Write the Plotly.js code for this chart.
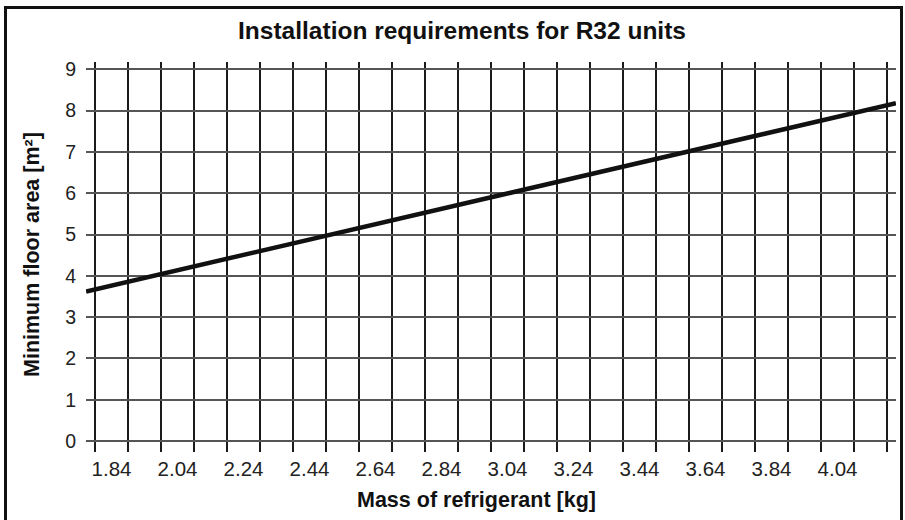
<!DOCTYPE html>
<html>
<head>
<meta charset="utf-8">
<script src="https://cdn.plot.ly/plotly-3.0.1.min.js"></script>
<style>
  html, body { margin: 0; padding: 0; background: #fff; }
  #wrap { position: relative; width: 905px; height: 520px; overflow: hidden; }
  #chart { position: absolute; left: 0; top: 0; width: 905px; height: 520px; }
  #frame { position: absolute; left: 4px; top: 6px; width: 893px; height: 540px;
           border: 3px solid #111; pointer-events: none; }
</style>
</head>
<body>
<div id="wrap">
  <div id="chart"></div>
  <div id="frame"></div>
</div>
<script>
// Data
const massKg = [1.763, 2.0, 2.5, 3.0, 3.5, 4.0, 4.217];
const minFloorArea = [3.62, 4.06, 4.99, 5.92, 6.85, 7.78, 8.18];

const xTickVals = [1.84, 2.04, 2.24, 2.44, 2.64, 2.84, 3.04, 3.24, 3.44, 3.64, 3.84, 4.04];
const xTickText = ["1.84", "2.04", "2.24", "2.44", "2.64", "2.84", "3.04", "3.24", "3.44", "3.64", "3.84", "4.04"];
const xGridVals = [1.79, 1.89, 1.99, 2.09, 2.19, 2.29, 2.39, 2.49, 2.59, 2.69, 2.79, 2.89, 2.99,
                   3.09, 3.19, 3.29, 3.39, 3.49, 3.59, 3.69, 3.79, 3.89, 3.99, 4.09, 4.19];
const yTickVals = [0, 1, 2, 3, 4, 5, 6, 7, 8, 9];

const chartTitle = "Installation requirements for R32 units";
const xTitle = "Mass of refrigerant [kg]";
const yTitle = "Minimum floor area [m²]";

const FONT = "Liberation Sans, Arial, sans-serif";

const trace = {
  x: massKg,
  y: minFloorArea,
  type: "scatter",
  mode: "lines",
  line: { color: "#111111", width: 4.5 },
  hoverinfo: "skip",
  cliponaxis: false
};

const layout = {
  width: 905,
  height: 520,
  margin: { l: 86, r: 9, t: 62, b: 79 },
  paper_bgcolor: "#ffffff",
  plot_bgcolor: "#ffffff",
  showlegend: false,
  font: { family: FONT, color: "#222222", size: 20 },
  title: {
    text: "<b>" + chartTitle + "</b>",
    font: { family: FONT, size: 24.5, color: "#111111" },
    x: 462 / 905, xref: "container", xanchor: "center",
    y: 1 - 30 / 520, yref: "container", yanchor: "middle"
  },
  xaxis: {
    type: "linear",
    range: [1.79 - 9 / 330, 4.19 + 9 / 330],
    tickmode: "array",
    tickvals: xTickVals,
    ticktext: xTickText,
    ticks: "",
    showgrid: false,
    zeroline: false,
    showline: false,
    ticklabelstandoff: 13,
    tickfont: { family: FONT, size: 20.5, color: "#222222" },
    minor: {
      tickmode: "array",
      tickvals: xGridVals,
      ticks: "outside",
      ticklen: 10,
      tickwidth: 2,
      tickcolor: "#1a1a1a",
      showgrid: true,
      gridcolor: "#1a1a1a",
      gridwidth: 2
    }
  },
  yaxis: {
    type: "linear",
    range: [0, 9.177],
    tickmode: "array",
    tickvals: yTickVals,
    ticks: "",
    showgrid: true,
    gridcolor: "#555555",
    gridwidth: 2,
    zeroline: true,
    zerolinecolor: "#555555",
    zerolinewidth: 2,
    showline: false,
    ticklabelstandoff: 9,
    tickfont: { family: FONT, size: 19.5, color: "#222222" }
  },
  annotations: [
    {
      text: "<b>" + xTitle + "</b>",
      xref: "paper", yref: "paper",
      x: (476 - 86) / 810, y: -(500 - 441) / 379,
      xanchor: "center", yanchor: "middle",
      showarrow: false,
      font: { family: FONT, size: 21.5, color: "#111111" }
    },
    {
      text: "<b>" + yTitle + "</b>",
      xref: "paper", yref: "paper",
      x: -(86 - 32) / 810, y: (441 - 255) / 379,
      xanchor: "center", yanchor: "middle",
      textangle: -90,
      showarrow: false,
      font: { family: FONT, size: 21.5, color: "#111111" }
    }
  ]
};

Plotly.newPlot("chart", [trace], layout, { displayModeBar: false, staticPlot: true });
</script>
</body>
</html>
